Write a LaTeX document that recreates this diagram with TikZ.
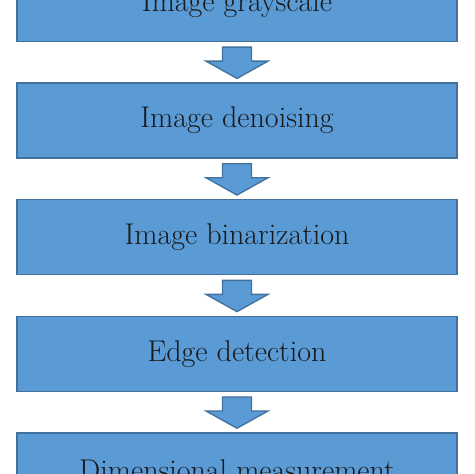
\documentclass[tikz,border=0pt]{standalone}
\usetikzlibrary{positioning,calc}
\definecolor{boxblue}{HTML}{5B9BD5}
\definecolor{boxline}{HTML}{41719C}
\tikzset{
    stage/.style={draw=boxline,fill=boxblue,line width=1pt,
        minimum width=330pt,minimum height=56.25pt,inner sep=0pt,
        font=\fontsize{22.5}{26}\selectfont,text=black!90},
    flow/.style={draw=boxline,fill=boxblue,line width=1pt,line join=miter}
}
\begin{document}
\begin{tikzpicture}[x=0.75pt,y=-0.75pt,node distance=30.2pt]
    \useasboundingbox (0,0) rectangle (474,474);

    % processing stages
    \node[stage] (gray) at (237,4) {Image grayscale};
    \node[stage,below=of gray] (denoise) {Image denoising};
    \node[stage,below=of denoise] (binar) {Image binarization};
    \node[stage,below=of binar] (edge) {Edge detection};
    \node[stage,below=of edge] (dim) {Dimensional measurement};

    % block arrows between stages
    \foreach \a/\b in {gray/denoise,denoise/binar,binar/edge,edge/dim} {
        \draw[flow] ($(\a.south)+(-14.5,5)$) -- ($(\a.south)+(14.5,5)$)
            -- ($(\a.south)+(14.5,19)$) -- ($(\a.south)+(31,19)$)
            -- ($(\b.north)+(0,-4)$) -- ($(\a.south)+(-31,19)$)
            -- ($(\a.south)+(-14.5,19)$) -- cycle;
    }
\end{tikzpicture}
\end{document}
